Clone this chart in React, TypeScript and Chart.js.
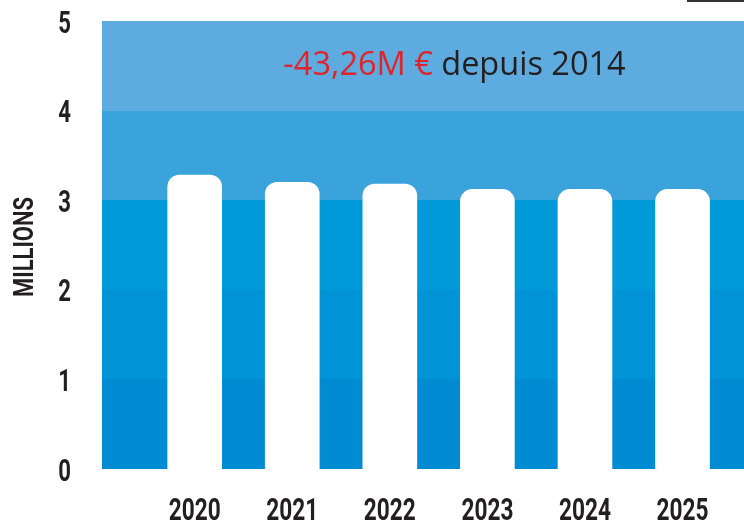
import React, { useEffect, useRef } from "react";
import { Chart, registerables } from "chart.js";

Chart.register(...registerables);

const years = [2020, 2021, 2022, 2023, 2024, 2025];
const values = [3.28, 3.2, 3.18, 3.12, 3.12, 3.12];
const yTicks = [0, 1, 2, 3, 4, 5];
const bandColors = ["#008bd2", "#0093d5", "#009ad8", "#3aa3db", "#5dabdf"];
const noteRed = "-43,26M €";
const noteDark = " depuis 2014";
const yTitle = "MILLIONS";

const COND = "Roboto, 'DejaVu Sans', sans-serif";
const TEXT = "#231f20";

// draw text horizontally squeezed (condensed look)
function condText(ctx: any, txt: string, x: number, y: number, size: number, widthTarget: number, align: string) {
  ctx.font = `bold ${size}px ${COND}`;
  const m = ctx.measureText(txt).width;
  const sx = widthTarget / m;
  const w = m * sx;
  let left = x;
  if (align === "center") left = x - w / 2;
  else if (align === "right") left = x - w;
  ctx.save();
  ctx.translate(left, y);
  ctx.scale(sx, 1);
  ctx.textAlign = "left";
  ctx.textBaseline = "alphabetic";
  ctx.fillText(txt, 0, 0);
  ctx.restore();
}

const bandsPlugin = {
  id: "bands",
  beforeDatasetsDraw(chart: any) {
    const { ctx, chartArea, scales } = chart;
    const y = scales.y;
    ctx.save();
    const left = Math.round(chartArea.left);
    const right = Math.round(chartArea.right);
    for (let i = 0; i < bandColors.length; i++) {
      const top = Math.round(y.getPixelForValue(i + 1));
      const bot = Math.round(y.getPixelForValue(i));
      ctx.fillStyle = bandColors[i];
      ctx.fillRect(left, top, right - left, bot - top);
    }
    ctx.restore();
  },
  afterDraw(chart: any) {
    const { ctx, scales, chartArea } = chart;
    ctx.save();
    ctx.fillStyle = TEXT;
    // x tick labels
    years.forEach((yr) => {
      const px = scales.x.getPixelForValue(yr);
      condText(ctx, String(yr), px, 520, 32, 52, "center");
    });
    // y tick labels
    yTicks.forEach((v) => {
      const py = scales.y.getPixelForValue(v);
      condText(ctx, String(v), 71, py + 11.5, 32, 12.7, "right");
    });
    // y title
    ctx.save();
    ctx.translate(33, (chartArea.top + chartArea.bottom) / 2 + 2);
    ctx.rotate(-Math.PI / 2);
    condText(ctx, yTitle, 0, 0, 28, 100, "center");
    ctx.restore();

    // annotation
    ctx.font = "32.5px 'Open Sans', sans-serif";
    ctx.textBaseline = "alphabetic";
    ctx.textAlign = "left";
    const w1 = ctx.measureText(noteRed).width;
    const w2 = ctx.measureText(noteDark).width;
    const cx = 454.5;
    const x0 = cx - (w1 + w2) / 2;
    ctx.fillStyle = "#e0242c";
    ctx.fillText(noteRed, x0, 75);
    ctx.fillStyle = TEXT;
    ctx.fillText(noteDark, x0 + w1, 75);
    ctx.fillStyle = "#333333";
    ctx.fillRect(687, 0, chart.width - 687, 2);
    ctx.restore();
  },
};

export default function App() {
  const ref = useRef<HTMLCanvasElement>(null);
  useEffect(() => {
    document.body.style.margin = "0";
    const chart = new Chart(ref.current as HTMLCanvasElement, {
      type: "bar",
      data: {
        datasets: [
          {
            data: years.map((yr, i) => ({ x: yr, y: values[i] })),
            backgroundColor: "#ffffff",
            borderWidth: 0,
            borderRadius: { topLeft: 12, topRight: 12, bottomLeft: 0, bottomRight: 0 },
            borderSkipped: "bottom",
            barThickness: 54,
          },
        ],
      },
      options: {
        animation: false,
        responsive: false,
        layout: { padding: { top: 21, right: 0, left: 102, bottom: 59 } },
        plugins: { legend: { display: false }, tooltip: { enabled: false } },
        scales: {
          x: {
            type: "linear",
            display: false,
            offset: false,
            min: years[0] - 0.95,
            max: years[years.length - 1] + 0.63,
          },
          y: {
            display: false,
            min: 0,
            max: 5,
          },
        },
      },
      plugins: [bandsPlugin],
    } as any);
    return () => chart.destroy();
  }, []);
  return <canvas ref={ref} width={744} height={528} style={{ display: "block" }} />;
}
